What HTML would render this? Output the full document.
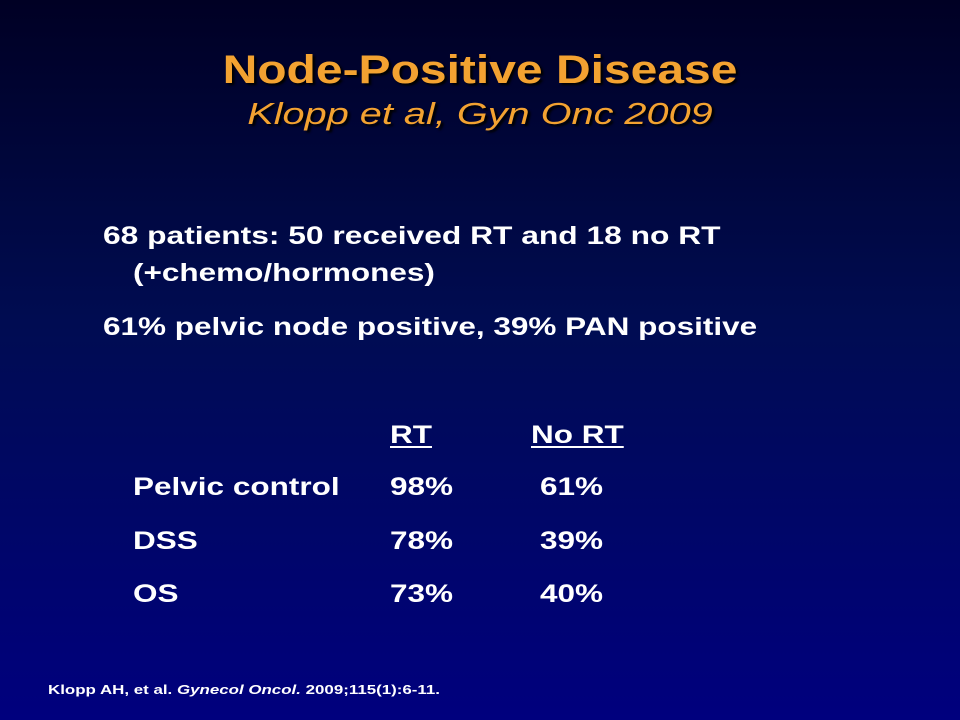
<!DOCTYPE html>
<html><head><meta charset="utf-8"><style>
html,body{margin:0;padding:0}
body{width:960px;height:720px;overflow:hidden;position:relative;
background:linear-gradient(to bottom,#000024 0%,#000c52 45%,#00007e 100%);
font-family:"Liberation Sans",Arial,sans-serif;}
.t{position:absolute;line-height:1;white-space:nowrap;margin:0;transform-origin:0 0}
.title{left:0;width:960px;text-align:center;color:#f3a231;font-weight:bold;text-shadow:2px 2px 2px #000;transform-origin:50% 0}
.b{color:#fff;font-weight:bold;font-size:25px;transform:scaleX(1.26)}
.u{text-decoration:underline;text-underline-offset:3px}
</style></head><body>
<div class="t title" style="top:50px;font-size:40px;transform:scaleX(1.2)">Node-Positive Disease</div>
<div class="t title" style="top:98px;font-size:31px;font-weight:normal;font-style:italic;transform:scaleX(1.28)">Klopp et al, Gyn Onc 2009</div>

<div class="t b" style="left:103px;top:224px;transform:scaleX(1.27)">68 patients: 50 received RT and 18 no RT</div>
<div class="t b" style="left:133px;top:261px">(+chemo/hormones)</div>
<div class="t b" style="left:103px;top:315px">61% pelvic node positive, 39% PAN positive</div>

<div class="t b u" style="left:390px;top:423px">RT</div>
<div class="t b u" style="left:531px;top:423px">No RT</div>

<div class="t b" style="left:133px;top:475px">Pelvic control</div>
<div class="t b" style="left:390px;top:475px">98%</div>
<div class="t b" style="left:540px;top:475px">61%</div>

<div class="t b" style="left:133px;top:529px">DSS</div>
<div class="t b" style="left:390px;top:529px">78%</div>
<div class="t b" style="left:540px;top:529px">39%</div>

<div class="t b" style="left:133px;top:582px">OS</div>
<div class="t b" style="left:390px;top:582px">73%</div>
<div class="t b" style="left:540px;top:582px">40%</div>

<div class="t" style="left:48px;top:683px;font-size:13px;font-weight:bold;color:#fff;transform:scaleX(1.3)">Klopp AH, et al. <i>Gynecol Oncol.</i> 2009;115(1):6-11.</div>
</body></html>
